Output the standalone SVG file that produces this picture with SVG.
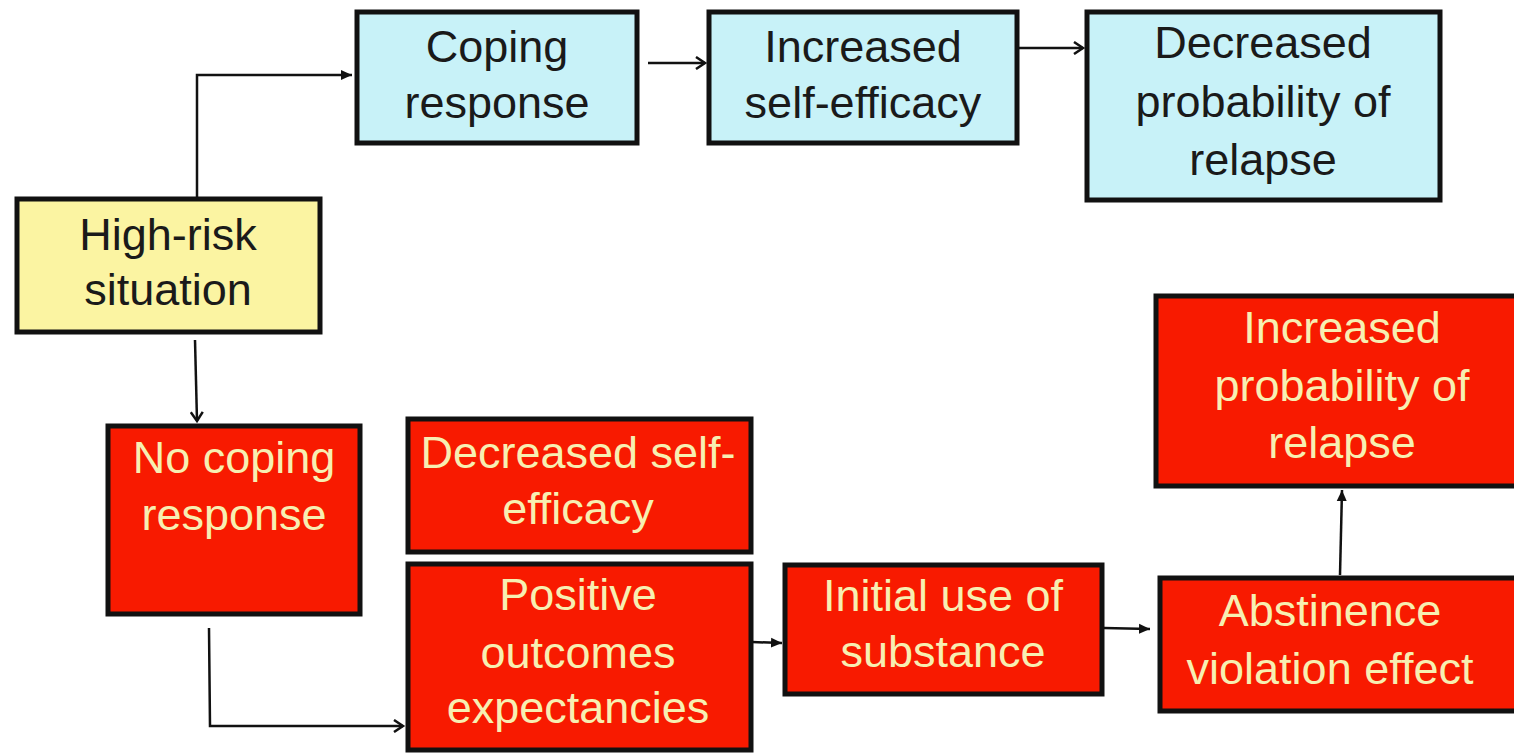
<svg xmlns="http://www.w3.org/2000/svg" width="1514" height="754" viewBox="0 0 1514 754">
<style>
.box{stroke:#111;stroke-width:5}
.blue{fill:#c8f2f8}
.yellow{fill:#fbf4a2}
.red{fill:#f81a00}
text{font-family:"Liberation Sans",Arial,sans-serif;font-size:45px;text-anchor:middle}
.dark{fill:#1a1a1a}
.light{fill:#f7efb2}
.conn{fill:none;stroke:#111;stroke-width:2.5}
</style>
<defs>
<marker id="chev" markerWidth="14" markerHeight="14" refX="11" refY="7" orient="auto" markerUnits="userSpaceOnUse">
<path d="M2,1 L11,7 L2,13" fill="none" stroke="#111" stroke-width="2.5"/>
</marker>
<marker id="tri" markerWidth="12" markerHeight="12" refX="11" refY="6" orient="auto" markerUnits="userSpaceOnUse">
<path d="M0,1 L11,6 L0,11 Z" fill="#111"/>
</marker>
</defs>
<g id="connectors">
<path class="conn" d="M197,198 L197,75 L352,75" marker-end="url(#tri)"/>
<path class="conn" d="M648,63 L705,63" marker-end="url(#chev)"/>
<path class="conn" d="M1019,48 L1083,48" marker-end="url(#chev)"/>
<path class="conn" d="M195,340 L197,421" marker-end="url(#chev)"/>
<path class="conn" d="M209,628 L210,726 L403,726" marker-end="url(#chev)"/>
<path class="conn" d="M752,642 L782,643" marker-end="url(#tri)"/>
<path class="conn" d="M1104,628 L1150,629" marker-end="url(#tri)"/>
<path class="conn" d="M1340,575 L1342,490" marker-end="url(#tri)"/>
</g>
<g id="coping">
<rect class="box blue" x="357" y="12" width="280" height="131"/>
<text class="dark" x="497" y="62">Coping</text>
<text class="dark" x="497" y="118">response</text>
</g>
<g id="increased-self-efficacy">
<rect class="box blue" x="709" y="12" width="308" height="131"/>
<text class="dark" x="863" y="62">Increased</text>
<text class="dark" x="863" y="118">self-efficacy</text>
</g>
<g id="decreased-probability">
<rect class="box blue" x="1087" y="12" width="353" height="188"/>
<text class="dark" x="1263" y="58">Decreased</text>
<text class="dark" x="1263" y="117">probability of</text>
<text class="dark" x="1263" y="175">relapse</text>
</g>
<g id="high-risk">
<rect class="box yellow" x="17" y="199" width="303" height="133"/>
<text class="dark" x="168" y="250">High-risk</text>
<text class="dark" x="168" y="305">situation</text>
</g>
<g id="no-coping">
<rect class="box red" x="108" y="426" width="252" height="188"/>
<text class="light" x="234" y="473">No coping</text>
<text class="light" x="234" y="530">response</text>
</g>
<g id="decreased-self-efficacy">
<rect class="box red" x="408" y="419" width="343" height="133"/>
<text class="light" x="578" y="468">Decreased self-</text>
<text class="light" x="578" y="524">efficacy</text>
</g>
<g id="positive-outcomes">
<rect class="box red" x="408" y="564" width="343" height="186"/>
<text class="light" x="578" y="610">Positive</text>
<text class="light" x="578" y="668">outcomes</text>
<text class="light" x="578" y="723">expectancies</text>
</g>
<g id="initial-use">
<rect class="box red" x="785" y="565" width="317" height="129"/>
<text class="light" x="943" y="611">Initial use of</text>
<text class="light" x="943" y="667">substance</text>
</g>
<g id="abstinence">
<rect class="box red" x="1160" y="578" width="360" height="133"/>
<text class="light" x="1330" y="626">Abstinence</text>
<text class="light" x="1330" y="684">violation effect</text>
</g>
<g id="increased-probability">
<rect class="box red" x="1156" y="296" width="364" height="190"/>
<text class="light" x="1342" y="343">Increased</text>
<text class="light" x="1342" y="401">probability of</text>
<text class="light" x="1342" y="458">relapse</text>
</g>
</svg>
